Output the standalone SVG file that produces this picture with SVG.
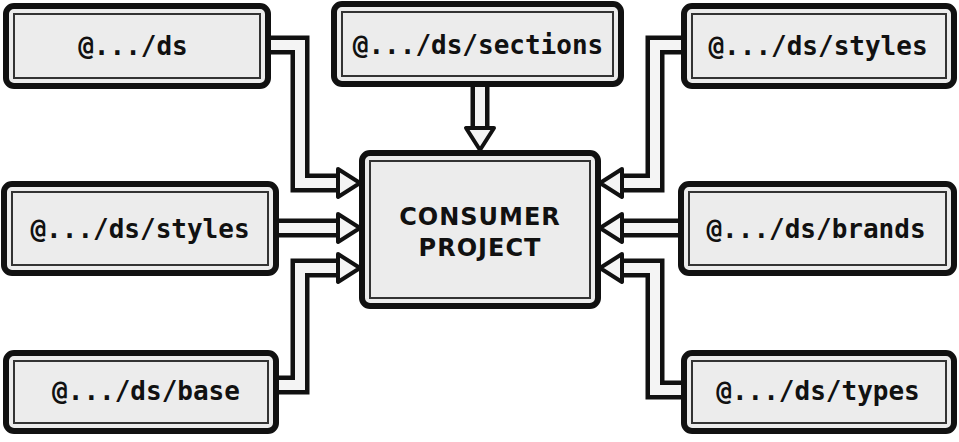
<svg xmlns="http://www.w3.org/2000/svg" width="959" height="442" viewBox="0 0 959 442">
<style>
.o{fill:#ececec;stroke:#111;stroke-width:6}
.i{fill:none;stroke:#333;stroke-width:2}
.t{font-family:"DejaVu Sans Mono",monospace;font-weight:bold;font-size:26px;fill:#111;text-anchor:middle;dominant-baseline:central}
.c{font-family:"DejaVu Sans",sans-serif;font-size:24px;letter-spacing:1px}
.pb{fill:none;stroke:#111;stroke-width:19;stroke-linejoin:miter}
.pw{fill:none;stroke:#f4f4f4;stroke-width:10;stroke-linejoin:miter}
.ah{fill:#f4f4f4;stroke:#111;stroke-width:4;stroke-linejoin:round}
</style>
<rect width="959" height="442" fill="#fff"/>
<g id="connectors">
<path class="pb" d="M270 45H300V183H345"/><path class="pw" d="M266 45H300V183H345"/>
<path class="pb" d="M278 228H345"/><path class="pw" d="M274 228H345"/>
<path class="pb" d="M278 385H300V268H345"/><path class="pw" d="M274 385H300V268H345"/>
<path class="pb" d="M480 85V134"/><path class="pw" d="M480 80V134"/>
<path class="pb" d="M683 45H655V183H615"/><path class="pw" d="M687 45H655V183H615"/>
<path class="pb" d="M680 228H615"/><path class="pw" d="M684 228H615"/>
<path class="pb" d="M683 390H655V268H615"/><path class="pw" d="M687 390H655V268H615"/>
<polygon class="ah" points="338,169 360,183 338,197"/>
<polygon class="ah" points="338,214 360,228 338,242"/>
<polygon class="ah" points="338,254 360,268 338,282"/>
<polygon class="ah" points="466,128 494,128 480,150"/>
<polygon class="ah" points="622,169 600,183 622,197"/>
<polygon class="ah" points="622,214 600,228 622,242"/>
<polygon class="ah" points="622,254 600,268 622,282"/>
</g>
<g id="center"><rect class="o" x="362" y="153" width="236" height="153" rx="8"/><rect class="i" x="370" y="161" width="220" height="137"/>
<text class="t c" x="480" y="217">CONSUMER</text><text class="t c" x="480" y="248">PROJECT</text></g>
<g id="n1"><rect class="o" x="6" y="6" width="262" height="80" rx="8"/><rect class="i" x="14" y="14" width="246" height="64"/><text class="t" x="133" y="46">@.../ds</text></g>
<g id="n2"><rect class="o" x="4" y="184" width="272" height="89" rx="8"/><rect class="i" x="12" y="192" width="256" height="73"/><text class="t" x="140" y="229">@.../ds/styles</text></g>
<g id="n3"><rect class="o" x="6" y="353" width="270" height="78" rx="8"/><rect class="i" x="14" y="361" width="254" height="62"/><text class="t" x="146" y="391">@.../ds/base</text></g>
<g id="n4"><rect class="o" x="334" y="4" width="287" height="80" rx="8"/><rect class="i" x="342" y="12" width="271" height="64"/><text class="t" x="478" y="45">@.../ds/sections</text></g>
<g id="n5"><rect class="o" x="684" y="6" width="270" height="80" rx="8"/><rect class="i" x="692" y="14" width="254" height="64"/><text class="t" x="818" y="46">@.../ds/styles</text></g>
<g id="n6"><rect class="o" x="681" y="184" width="273" height="89" rx="8"/><rect class="i" x="689" y="192" width="257" height="73"/><text class="t" x="816" y="229">@.../ds/brands</text></g>
<g id="n7"><rect class="o" x="684" y="353" width="270" height="78" rx="8"/><rect class="i" x="692" y="361" width="254" height="62"/><text class="t" x="818" y="391">@.../ds/types</text></g>
</svg>
